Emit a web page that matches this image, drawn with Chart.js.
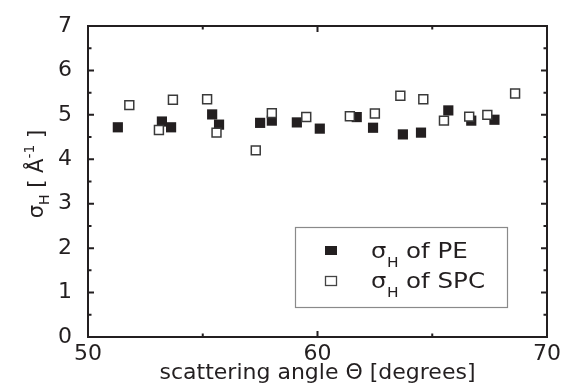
<!DOCTYPE html>
<html>
<head>
<meta charset="utf-8">
<script src="https://cdn.jsdelivr.net/npm/chart.js@4/dist/chart.umd.min.js"></script>
<style>
  html, body { margin: 0; padding: 0; background: #fff; }
  #wrap { width: 562px; height: 392px; }
</style>
</head>
<body>
<div id="wrap"><canvas id="chart" width="562" height="392"></canvas></div>
<script>
// data
const peAngle  = [51.30, 53.22, 53.62, 55.41, 55.71, 57.50, 58.01, 59.10, 60.10, 61.71, 62.42, 63.72, 64.51, 65.70, 66.70, 67.71];
const peSigma  = [4.72, 4.85, 4.72, 5.01, 4.78, 4.82, 4.87, 4.83, 4.69, 4.95, 4.71, 4.56, 4.60, 5.10, 4.87, 4.89];
const spcAngle = [51.80, 53.09, 53.70, 55.19, 55.60, 57.31, 58.01, 59.51, 61.41, 62.50, 63.61, 64.61, 65.51, 66.61, 67.40, 68.61];
const spcSigma = [5.22, 4.66, 5.34, 5.35, 4.60, 4.20, 5.04, 4.95, 4.97, 5.03, 5.43, 5.35, 4.87, 4.96, 5.00, 5.48];

const xMajor = [50, 60, 70];
const xMinor = [55, 65];
const yMajor = [0, 1, 2, 3, 4, 5, 6, 7];
const yMinor = [0.5, 1.5, 2.5, 3.5, 4.5, 5.5, 6.5];

const INK = "#231f20";
const FONT = "'DejaVu Sans', sans-serif";

function pts(xs, ys) {
  return xs.map((x, i) => ({ x: x, y: ys[i] }));
}

// frame with inward ticks on all four sides
const framePlugin = {
  id: "frame",
  afterDatasetsDraw(chart) {
    const { ctx, chartArea: a, scales } = chart;
    const xs = scales.x, ys = scales.y;
    ctx.save();
    ctx.strokeStyle = INK;
    ctx.lineWidth = 2;
    ctx.strokeRect(a.left, a.top, a.right - a.left, a.bottom - a.top);
    ctx.beginPath();
    const xt = (v, len) => {
      const p = xs.getPixelForValue(v);
      ctx.moveTo(p, a.bottom); ctx.lineTo(p, a.bottom - len);
      ctx.moveTo(p, a.top);    ctx.lineTo(p, a.top + len);
    };
    const yt = (v, len) => {
      const p = ys.getPixelForValue(v);
      ctx.moveTo(a.left, p);  ctx.lineTo(a.left + len, p);
      ctx.moveTo(a.right, p); ctx.lineTo(a.right - len, p);
    };
    xMajor.forEach(v => xt(v, 6));
    xMinor.forEach(v => xt(v, 3.5));
    yMajor.forEach(v => yt(v, 6));
    yMinor.forEach(v => yt(v, 3.5));
    ctx.stroke();
    ctx.restore();
  }
};

// pieces of text with sub/superscripts
function drawRich(ctx, parts, x, y, sx) {
  let cx = 0;
  ctx.save();
  ctx.translate(x, y);
  ctx.scale(sx || 1, 1);
  parts.forEach(p => {
    ctx.font = p.size + "px " + FONT;
    ctx.fillText(p.t, cx, p.dy || 0);
    cx += ctx.measureText(p.t).width;
  });
  ctx.restore();
}
function richWidth(ctx, parts) {
  let w = 0;
  parts.forEach(p => {
    ctx.font = p.size + "px " + FONT;
    w += ctx.measureText(p.t).width;
  });
  return w;
}

const yTitleParts = [
  { t: "\u03c3", size: 21 },
  { t: "H", size: 14, dy: 6 },
  { t: " [ \u00c5", size: 21 },
  { t: "-1", size: 14, dy: -9 },
  { t: " ]", size: 21 }
];

const labelsPlugin = {
  id: "labels",
  afterDraw(chart) {
    const ctx = chart.ctx;
    ctx.save();
    ctx.fillStyle = INK;
    ctx.textBaseline = "alphabetic";
    ctx.textAlign = "left";

    // y axis title, rotated
    const w = richWidth(ctx, yTitleParts);
    ctx.save();
    ctx.translate(43, 174);
    ctx.rotate(-Math.PI / 2);
    drawRich(ctx, yTitleParts, -w / 2, 0);
    ctx.restore();

    // legend
    ctx.strokeStyle = "#8a8a8a";
    ctx.lineWidth = 1.2;
    ctx.strokeRect(295.5, 227.5, 212, 80);

    ctx.fillStyle = INK;
    ctx.fillRect(325, 246, 12, 9);
    ctx.strokeStyle = "#444";
    ctx.lineWidth = 1.3;
    ctx.strokeRect(325.5, 276.5, 11, 9);

    ctx.fillStyle = INK;
    drawRich(ctx, [{ t: "\u03c3", size: 22 }], 371, 258, 1.1);
    drawRich(ctx, [{ t: "H", size: 14 }], 387, 267, 1.1);
    drawRich(ctx, [{ t: "of PE", size: 21 }], 406, 258, 1.17);

    drawRich(ctx, [{ t: "\u03c3", size: 22 }], 371, 288, 1.1);
    drawRich(ctx, [{ t: "H", size: 14 }], 387, 297, 1.1);
    drawRich(ctx, [{ t: "of SPC", size: 21 }], 406, 288, 1.17);
    ctx.restore();
  }
};

new Chart(document.getElementById("chart"), {
  type: "scatter",
  data: {
    datasets: [
      {
        label: "\u03c3H of SPC",
        data: pts(spcAngle, spcSigma),
        pointStyle: "rect",
        pointRadius: 6.3,
        pointHoverRadius: 6.3,
        backgroundColor: "#ffffff",
        borderColor: "#3a3a3a",
        borderWidth: 1.5,
        order: 1
      },
      {
        label: "\u03c3H of PE",
        data: pts(peAngle, peSigma),
        pointStyle: "rect",
        pointRadius: 7.2,
        pointHoverRadius: 7.2,
        backgroundColor: INK,
        borderColor: INK,
        borderWidth: 0,
        order: 2
      }
    ]
  },
  options: {
    responsive: false,
    animation: false,
    layout: { padding: { left: 0, right: 15, top: 26, bottom: 0 } },
    plugins: {
      legend: { display: false },
      tooltip: { enabled: false }
    },
    scales: {
      x: {
        type: "linear",
        min: 50,
        max: 70,
        afterBuildTicks: s => { s.ticks = xMajor.map(v => ({ value: v })); },
        grid: { display: false },
        border: { display: false },
        ticks: {
          font: { family: FONT, size: 22 },
          color: INK,
          padding: -4,
          maxRotation: 0
        },
        title: {
          display: true,
          text: "scattering angle \u0398 [degrees]",
          font: { family: FONT, size: 22 },
          color: INK,
          padding: { top: 0, bottom: 6 }
        },
        afterFit: s => { s.height = 55; }
      },
      y: {
        type: "linear",
        min: 0,
        max: 7,
        afterBuildTicks: s => { s.ticks = yMajor.map(v => ({ value: v })); },
        grid: { display: false },
        border: { display: false },
        ticks: {
          font: { family: FONT, size: 22 },
          color: INK,
          padding: 8
        },
        afterFit: s => { s.width = 88; }
      }
    }
  },
  plugins: [framePlugin, labelsPlugin]
});
</script>
</body>
</html>
